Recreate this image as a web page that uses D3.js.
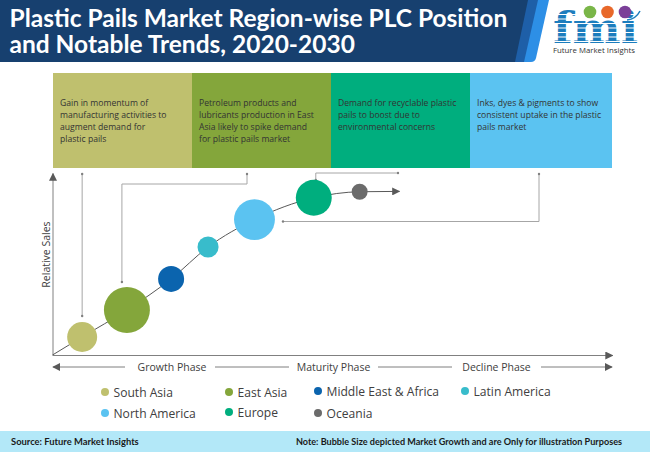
<!DOCTYPE html>
<html>
<head>
<meta charset="utf-8">
<title>Plastic Pails Market Region-wise PLC Position</title>
<script src="https://cdnjs.cloudflare.com/ajax/libs/d3/7.8.5/d3.min.js"></script>
<style>
html, body { margin: 0; padding: 0; background: #fff; }
svg { display: block; }
text { font-family: "Open Sans", sans-serif; }
</style>
</head>
<body>
<div id="chart"></div>
<script>
var titleLines = ['Plastic Pails Market Region-wise PLC Position', 'and Notable Trends, 2020-2030'];

// regions (x = lifecycle position, y = relative sales, 0-100)
var regions = ['South Asia', 'East Asia', 'Middle East & Africa', 'Latin America', 'North America', 'Europe', 'Oceania'];
var lifecycle = [5.3, 13.3, 21.2, 27.8, 36.1, 46.7, 54.9];
var relSales = [9.9, 24.7, 41.8, 59.3, 74.4, 86.4, 89.7];
var bubbleSize = [42.5, 100, 32, 21, 79, 61, 12];
var regionColors = ['#bfc06e', '#84a63b', '#0b64ae', '#38bccb', '#5bc3f1', '#00ae7e', '#6b6b6b'];

// sales curve that runs through the bubbles
var curveX = [0, 5.3, 13.3, 21.2, 27.8, 36.1, 46.7, 54.9, 62];
var curveY = [0, 9.9, 24.7, 41.8, 59.3, 74.4, 86.4, 89.7, 89.9];

var boxTexts = [
    ['Gain in momentum of', 'manufacturing activities to', 'augment demand for', 'plastic pails'],
    ['Petroleum products and', 'lubricants production in East', 'Asia likely to spike demand', 'for plastic pails market'],
    ['Demand for recyclable plastic', 'pails to boost due to', 'environmental concerns'],
    ['Inks, dyes & pigments to show', 'consistent uptake in the plastic', 'pails market']
];
var boxColors = ['#bfc06e', '#84a63b', '#00ae7e', '#5bc3f1'];
var boxEdges = [53, 192, 331, 470, 612];

var phases = ['Growth Phase', 'Maturity Phase', 'Decline Phase'];
var sourceText = 'Source: Future Market Insights';
var noteText = 'Note: Bubble Size depicted Market Growth and are Only for illustration Purposes';

var width = 650, height = 453;
var plot = {left: 52.5, right: 612, top: 173, bottom: 355};

var svg = d3.select('#chart').append('svg')
    .attr('width', width)
    .attr('height', height);

var defs = svg.append('defs');
defs.append('marker')
    .attr('id', 'tri')
    .attr('viewBox', '0 0 10 10')
    .attr('refX', 9).attr('refY', 5)
    .attr('markerUnits', 'userSpaceOnUse')
    .attr('markerWidth', 8).attr('markerHeight', 8)
    .attr('orient', 'auto-start-reverse')
    .append('path')
    .attr('d', 'M0,0L10,5L0,10Z')
    .attr('fill', '#595959');

var x = d3.scaleLinear().domain([0, 100]).range([plot.left, plot.right]);
var y = d3.scaleLinear().domain([0, 100]).range([plot.bottom, plot.top]);
var r = d3.scaleSqrt().domain([0, 100]).range([0, 23]);

///////// header
svg.append('path').attr('d', 'M0,0H549L536,58Q535,62 531,62H0Z').attr('fill', '#2d8fe6');
svg.append('path').attr('d', 'M0,0H538L524,62H0Z').attr('fill', '#1e5fa8');
svg.append('path').attr('d', 'M0,0H528L515,62H0Z').attr('fill', '#17406f');

svg.append('g').selectAll('text')
    .data(titleLines)
    .enter().append('text')
    .attr('x', 9.5)
    .attr('y', function(d, i) { return 27 + i * 26; })
    .attr('fill', '#fff')
    .attr('font-size', 24.5)
    .attr('font-weight', 700)
    .style('font-family', 'Lato, sans-serif')
    .text(function(d) { return d; });

///////// logo
var logo = svg.append('g').attr('class', 'logo');
logo.append('text')
    .attr('x', 553).attr('y', 43)
    .attr('font-size', 43)
    .attr('font-weight', 700)
    .attr('fill', '#1c7dbd')
    .style('font-family', '"DejaVu Serif", serif')
    .attr('textLength', 85)
    .attr('lengthAdjust', 'spacingAndGlyphs')
    .text('fmi');
// white stripes over the letters
d3.range(7).forEach(function(i) {
    logo.append('rect')
        .attr('x', 552).attr('y', 14 + i * 4.5)
        .attr('width', 88).attr('height', 1)
        .attr('fill', '#fff');
});
logo.append('path')
    .attr('d', 'M627,20Q636,19 640,11')
    .attr('fill', 'none')
    .attr('stroke', '#1c7dbd')
    .attr('stroke-width', 1.5);
logo.selectAll('circle')
    .data(['#7ab648', '#e8682a', '#7b3f98'])
    .enter().append('circle')
    .attr('cx', function(d, i) { return 590 + i * 17.5; })
    .attr('cy', 12)
    .attr('r', 6.3)
    .attr('fill', function(d) { return d; });
logo.append('text')
    .attr('x', 553).attr('y', 53)
    .attr('font-size', 7.8)
    .attr('fill', '#333')
    .text('Future Market Insights');

///////// boxes
var boxes = svg.append('g').selectAll('g')
    .data(boxTexts)
    .enter().append('g')
    .attr('transform', function(d, i) { return 'translate(' + boxEdges[i] + ',73)'; });

boxes.append('rect')
    .attr('width', function(d, i) { return boxEdges[i + 1] - boxEdges[i]; })
    .attr('height', 95)
    .attr('fill', function(d, i) { return boxColors[i]; });

boxes.each(function(lines) {
    d3.select(this).selectAll('text')
        .data(lines)
        .enter().append('text')
        .attr('x', 7)
        .attr('y', function(d, i) { return 33 + i * 12; })
        .attr('font-size', 8.6)
        .attr('fill', '#333')
        .text(function(d) { return d; });
});

///////// axes
svg.append('g')
    .attr('transform', 'translate(0,' + plot.bottom + ')')
    .call(d3.axisBottom(x).tickValues([]).tickSize(0))
    .select('.domain')
    .attr('stroke', '#808080')
    .attr('stroke-width', 1)
    .attr('marker-end', 'url(#tri)');

svg.append('g')
    .attr('transform', 'translate(' + plot.left + ',0)')
    .call(d3.axisLeft(y).tickValues([]).tickSize(0))
    .select('.domain')
    .attr('stroke', '#808080')
    .attr('stroke-width', 1)
    .attr('marker-end', 'url(#tri)');

svg.append('text')
    .attr('transform', 'translate(50,254.5) rotate(-90)')
    .attr('text-anchor', 'middle')
    .attr('font-size', 10.5)
    .attr('fill', '#404040')
    .text('Relative Sales');

///////// connectors from the boxes to the bubbles
var cx = lifecycle.map(x), cy = relSales.map(y);
var connectors = [
    [[cx[0], 174], [cx[0], 316]],
    [[247, 174], [247, 184], [cx[1] - 5, 184], [cx[1] - 5, 282]],
    [[398, 173], [cx[5] + 2, 173], [cx[5] + 2, 180]],
    [[539, 174], [539, 221.5], [283, 221.5]]
];
svg.append('g').selectAll('path')
    .data(connectors)
    .enter().append('path')
    .attr('d', d3.line())
    .attr('fill', 'none')
    .attr('stroke', '#a6a6a6')
    .attr('stroke-width', 1);
svg.append('g').selectAll('circle')
    .data(connectors.reduce(function(a, c) { return a.concat([c[0], c[c.length - 1]]); }, []))
    .enter().append('circle')
    .attr('cx', function(d) { return d[0]; })
    .attr('cy', function(d) { return d[1]; })
    .attr('r', 1.2)
    .attr('fill', '#808080');

///////// curve and bubbles
var line = d3.line()
    .x(function(d) { return x(d); })
    .y(function(d, i) { return y(curveY[i]); })
    .curve(d3.curveMonotoneX);

svg.append('path')
    .datum(curveX)
    .attr('d', line)
    .attr('fill', 'none')
    .attr('stroke', '#595959')
    .attr('stroke-width', 1)
    .attr('marker-end', 'url(#tri)');

svg.append('g').selectAll('circle')
    .data(regions)
    .enter().append('circle')
    .attr('cx', function(d, i) { return cx[i]; })
    .attr('cy', function(d, i) { return cy[i]; })
    .attr('r', function(d, i) { return r(bubbleSize[i]); })
    .attr('fill', function(d, i) { return regionColors[i]; });

///////// phase arrows
var phaseY = 367;
var phaseGaps = [[125, 215], [289, 378], [452, 541]];
var phaseSegs = [[53, 125], [215, 289], [378, 452], [541, 612]];
svg.append('g').selectAll('line')
    .data(phaseSegs)
    .enter().append('line')
    .attr('x1', function(d) { return d[0]; })
    .attr('x2', function(d) { return d[1]; })
    .attr('y1', phaseY).attr('y2', phaseY)
    .attr('stroke', '#7f7f7f')
    .attr('stroke-width', 1)
    .attr('marker-start', function(d, i) { return i === 0 ? 'url(#tri)' : null; })
    .attr('marker-end', function(d, i) { return i === 3 ? 'url(#tri)' : null; });
svg.append('g').selectAll('text')
    .data(phases)
    .enter().append('text')
    .attr('x', function(d, i) { return (phaseGaps[i][0] + phaseGaps[i][1]) / 2 + (i === 0 ? 2 : 0); })
    .attr('y', phaseY + 4)
    .attr('text-anchor', 'middle')
    .attr('font-size', 10.5)
    .attr('fill', '#404040')
    .text(function(d) { return d; });

///////// legend
var legendCols = [105, 229, 318, 465, 105, 229, 318];
var legendRows = [392, 392, 391, 391, 413, 412, 413];
var legend = svg.append('g').selectAll('g')
    .data(regions)
    .enter().append('g')
    .attr('transform', function(d, i) { return 'translate(' + legendCols[i] + ',' + legendRows[i] + ')'; });
legend.append('circle')
    .attr('r', 4)
    .attr('fill', function(d, i) { return regionColors[i]; });
legend.append('text')
    .attr('x', 8.5)
    .attr('y', 4.5)
    .attr('font-size', 12.1)
    .attr('fill', '#404040')
    .text(function(d) { return d; });

///////// footer
svg.append('rect')
    .attr('y', 431).attr('width', width).attr('height', 21)
    .attr('fill', '#b3e8f8');
svg.append('text')
    .attr('x', 11).attr('y', 445)
    .attr('font-size', 9.4).attr('font-weight', 700).attr('fill', '#1a1a1a')
    .style('font-family', 'Lato, sans-serif')
    .text(sourceText);
svg.append('text')
    .attr('x', 622).attr('y', 445)
    .attr('text-anchor', 'end')
    .attr('font-size', 9.1).attr('font-weight', 700).attr('fill', '#1a1a1a')
    .style('font-family', 'Lato, sans-serif')
    .text(noteText);
</script>
</body>
</html>
